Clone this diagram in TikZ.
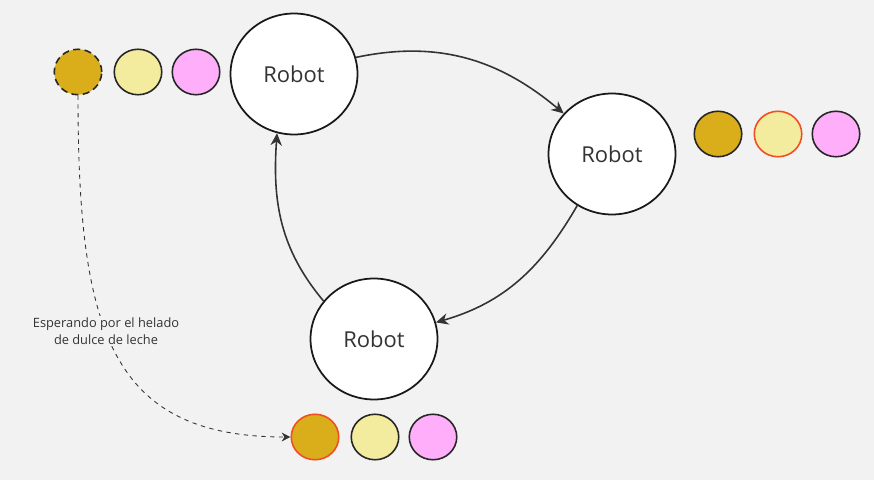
\documentclass[tikz,border=0pt]{standalone}
\usepackage{fontspec}
\setmainfont{Open Sans}
\usetikzlibrary{shapes,arrows.meta}
\definecolor{bg}{HTML}{F2F2F2}
\definecolor{gold}{HTML}{DAAD1B}
\definecolor{cream}{HTML}{F3EB9D}
\definecolor{rosa}{HTML}{FFAFF9}
\definecolor{rojo}{HTML}{F04E23}
\definecolor{ink}{HTML}{333333}

\begin{document}
\begin{tikzpicture}[x=0.02cm,y=0.02cm,
	robot/.style={ellipse,draw=black!90,line width=1pt,fill=white,minimum width=2.54cm,minimum height=2.42cm,inner sep=0pt,text=ink,font=\fontsize{12.5}{15}\selectfont},
	bola/.style={ellipse,draw=black!85,line width=0.9pt,minimum width=0.95cm,minimum height=0.91cm,inner sep=0pt},
	flecha/.style={draw=ink,line width=0.9pt,-{Stealth[length=7pt,width=6.5pt]}}]
			\fill [bg] (0,0) rectangle (874,480);
			
			\node [robot] (r1) at (294,406) {Robot};
			\node [robot] (r2) at (612,326) {Robot};
			\node [robot] (r3) at (374,141) {Robot};
			
			\node [bola,fill=gold,dashed,dash pattern=on 4pt off 2.5pt] (a1) at (78,408) {};
			\node [bola,fill=cream] (a2) at (138,408) {};
			\node [bola,fill=rosa] (a3) at (196,408) {};
			
			\node [bola,fill=gold] (b1) at (718,346) {};
			\node [bola,fill=cream,draw=rojo] (b2) at (778,346) {};
			\node [bola,fill=rosa] (b3) at (836,346) {};
			
			\node [bola,fill=gold,draw=rojo] (c1) at (315,43) {};
			\node [bola,fill=cream] (c2) at (375,43) {};
			\node [bola,fill=rosa] (c3) at (433,43) {};
			
			\draw [flecha] (r1.15) to[out=12,in=140] (r2.140);
			\draw [flecha] (r2.-124) to[out=-120,in=16] (r3.15);
			\draw [flecha] (r3.143) to[out=130,in=-94] (r1.-106);
			
			\draw [ink,line width=0.5pt,dash pattern=on 2.5pt off 2.5pt,-{Stealth[length=5pt,width=5pt]}] (a1.south) .. controls (78,150) and (110,43) .. (c1.west);
			\node [fill=bg,inner sep=1pt,align=center,text=ink,font=\fontsize{7.3}{9.7}\selectfont] (nota) at (106,149) {Esperando por el helado\\de dulce de leche};
		\end{tikzpicture}
\end{document}
